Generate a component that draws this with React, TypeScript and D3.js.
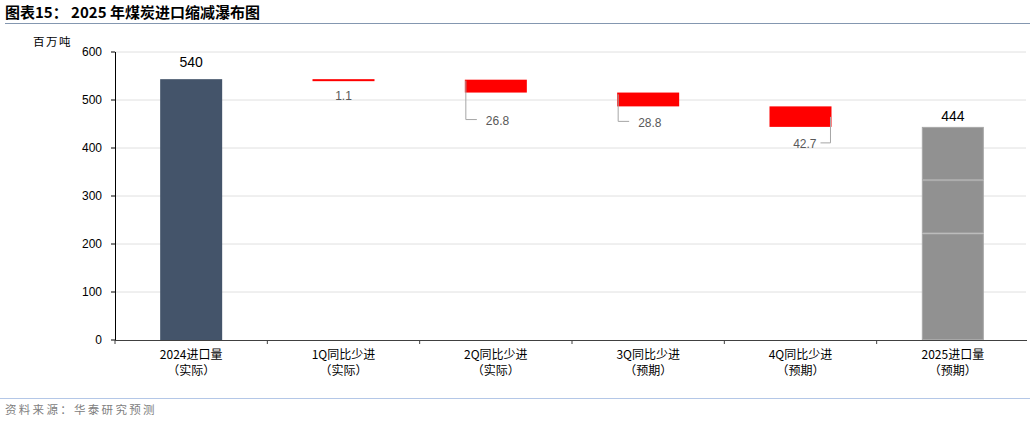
import React, { useEffect } from 'react';
import * as d3 from 'd3';

const categories = ['2024进口量|（实际）', '1Q同比少进|（实际）', '2Q同比少进|（实际）', '3Q同比少进|（预期）', '4Q同比少进|（预期）', '2025进口量|（预期）'];
const startValue = 543.4;
const decreases = [1.1, 26.8, 28.8, 42.7];
const endValue = 444;
const valueLabels = ['540', '1.1', '26.8', '28.8', '42.7', '444'];
const endBreaks = [222, 333];
const yTicks = [0, 100, 200, 300, 400, 500, 600];

const W = 1030;
const H = 422;
const num = '"Liberation Sans", Arial, sans-serif';
const cjk = '"Noto Sans CJK SC", "Liberation Sans", sans-serif';

export default function App() {
  useEffect(() => {
    document.body.style.margin = '0';
  }, []);

  const x = d3.scaleBand<string>()
    .domain(categories)
    .range([115, 1029])
    .paddingInner(0.593)
    .paddingOuter(0.2965);
  const y = d3.scaleLinear().domain([0, 600]).range([340, 52]);

  // waterfall steps
  let level = startValue;
  const steps = decreases.map((d, i) => {
    const top = level;
    level -= d;
    return { cat: categories[i + 1], top, bottom: level, label: valueLabels[i + 1] };
  });

  const bw = x.bandwidth();
  const step = x.step();
  const boundaries = d3.range(categories.length + 1).map(i => 115 + i * step);

  return (
    <svg width={W} height={H} style={{ position: 'absolute', left: 0, top: 0, background: '#fff' }}>
      {/* title */}
      <text x={5} y={18} fontSize={15} fontWeight="bold" fontFamily={cjk} fill="#000">图表15： 2025 年煤炭进口缩减瀑布图</text>
      <line x1={5} x2={1030} y1={23.5} y2={23.5} stroke="#8497b0" strokeWidth={1} />

      {/* unit */}
      <text x={33} y={46} fontSize={11.5} letterSpacing={1.5} fontFamily={cjk} fill="#000">百万吨</text>

      {/* grid */}
      {yTicks.filter(t => t > 0).map(t => (
        <line key={t} x1={115} x2={1026} y1={y(t)} y2={y(t)} stroke="#e0e0e0" strokeWidth={1} />
      ))}

      {/* y axis */}
      <line x1={115.5} x2={115.5} y1={y(600)} y2={y(0)} stroke="#000" strokeWidth={1} />
      {yTicks.map(t => (
        <g key={t}>
          <line x1={111} x2={115} y1={y(t)} y2={y(t)} stroke="#000" />
          <text x={102} y={y(t)} dy="0.35em" textAnchor="end" fontSize={12} fontFamily={num} fill="#000">{t}</text>
        </g>
      ))}

      {/* start bar */}
      <rect x={x(categories[0])} y={y(startValue)} width={bw} height={y(0) - y(startValue)} fill="#44546a" />
      <text x={x(categories[0])! + bw / 2} y={y(startValue) - 12} textAnchor="middle" fontSize={14} fontFamily={num} fill="#000">{valueLabels[0]}</text>

      {/* decreases */}
      {steps.map(s => {
        const x0 = x(s.cat)!;
        const yt = y(s.top);
        const yb = y(s.bottom);
        const h = Math.max(2, yb - yt);
        return <rect key={s.cat} x={x0} y={yt} width={bw} height={h} fill="#ff0000" />;
      })}

      {/* decrease labels */}
      {(() => {
        const s1 = steps[0], s2 = steps[1], s3 = steps[2], s4 = steps[3];
        const x1 = x(s1.cat)!, x2 = x(s2.cat)!, x3 = x(s3.cat)!, x4 = x(s4.cat)!;
        const b2 = y(s2.bottom), b3 = y(s3.bottom), b4 = y(s4.bottom);
        return (
          <g fontSize={12} fontFamily={num} fill="#595959">
            <text x={x1 + bw / 2} y={y(s1.bottom) + 20} textAnchor="middle">{s1.label}</text>
            <polyline points={`${x2 + 1},${b2 - 12} ${x2 + 1},${b2 + 27} ${x2 + 12},${b2 + 27}`} fill="none" stroke="#a6a6a6" />
            <text x={x2 + 21} y={b2 + 28} dy="0.35em">{s2.label}</text>
            <polyline points={`${x3 + 1},${b3 - 12} ${x3 + 1},${b3 + 15} ${x3 + 12},${b3 + 15}`} fill="none" stroke="#a6a6a6" />
            <text x={x3 + 21} y={b3 + 16} dy="0.35em">{s3.label}</text>
            <polyline points={`${x4 + bw - 1},${b4 - 10} ${x4 + bw - 1},${b4 + 16} ${x4 + bw - 11},${b4 + 16}`} fill="none" stroke="#a6a6a6" />
            <text x={x4 + bw - 15} y={b4 + 17} dy="0.35em" textAnchor="end">{s4.label}</text>
          </g>
        );
      })()}

      {/* end bar, three segments */}
      {(() => {
        const c = categories[categories.length - 1];
        const edges = [0, ...endBreaks, endValue];
        return (
          <g>
            {edges.slice(1).map((e, i) => (
              <rect key={i} x={x(c)! + 0.5} y={y(e) + 0.5} width={bw - 1} height={y(edges[i]) - y(e) - 1}
                fill="#919191" stroke="#a8a8a8" strokeWidth={1} />
            ))}
            <text x={x(c)! + bw / 2} y={y(endValue) - 6} textAnchor="middle" fontSize={14} fontFamily={num} fill="#000">{valueLabels[5]}</text>
          </g>
        );
      })()}

      {/* x axis */}
      <line x1={115} x2={1027} y1={340.5} y2={340.5} stroke="#404040" strokeWidth={1.2} />
      {boundaries.slice(0, -1).map((b, i) => (
        <line key={i} x1={b} x2={b} y1={340} y2={344} stroke="#404040" />
      ))}
      {categories.map(c => {
        const [l1, l2] = c.split('|');
        const cx = x(c)! + bw / 2;
        return (
          <g key={c} textAnchor="middle" fontSize={12} fill="#000">
            <text x={cx} y={359} fontFamily={cjk}>{l1}</text>
            <text x={cx} y={375} fontFamily={cjk}>{l2}</text>
          </g>
        );
      })}

      {/* footer */}
      <line x1={0} x2={1030} y1={398.5} y2={398.5} stroke="#b4c7e7" strokeWidth={1.2} />
      <text x={5} y={414} fontSize={11.5} letterSpacing={2.3} fontFamily={cjk} fill="#808080">资料来源：华泰研究预测</text>
    </svg>
  );
}
